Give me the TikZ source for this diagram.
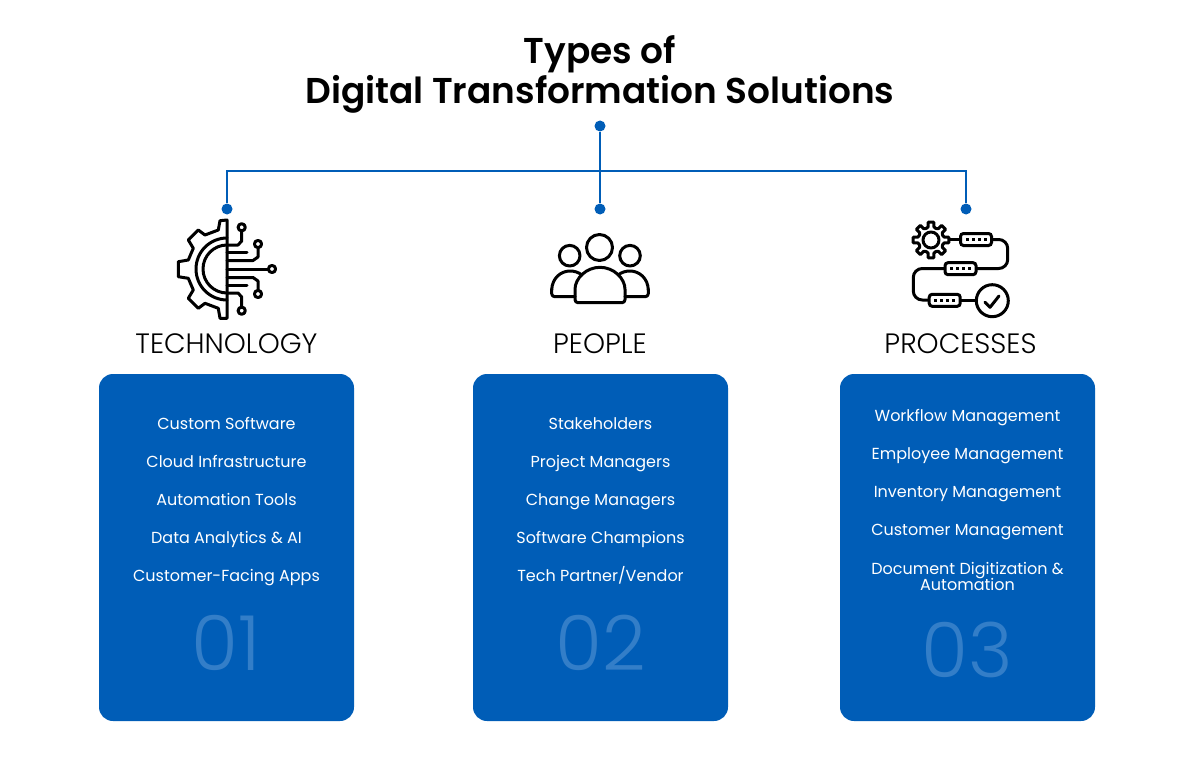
\documentclass[tikz,border=0pt]{standalone}
\usepackage{fontspec}
\setmainfont{Poppins}
\newfontfamily\titlefont{Poppins SemiBold}
\newfontfamily\lightfont{Poppins Light}
\definecolor{mainblue}{HTML}{005DB7}
\definecolor{numblue}{HTML}{337EC8}
\tikzset{
    panel/.style={draw=none,fill=mainblue,rounded corners=14pt,minimum width=255pt,minimum height=347pt,inner sep=0pt},
    dot/.style={circle,fill=mainblue,inner sep=0pt,minimum size=11pt},
    bus/.style={draw=mainblue,line width=2.2pt},
    item/.style={text=white,font=\fontsize{16}{16}\selectfont,align=center,inner sep=0pt,text height=12pt,text depth=4pt},
    head/.style={font=\lightfont\fontsize{28}{30}\selectfont,text=black,inner sep=0pt},
    num/.style={font=\lightfont\fontsize{76}{76}\selectfont,text=numblue,inner sep=0pt},
    icon/.style={draw=black,line width=3pt,line join=round,line cap=round},
    chip/.style={draw=black,line width=3pt,fill=white,rounded corners=3pt,minimum width=31pt,minimum height=12pt,inner sep=0pt},
    pip/.style={fill=black,inner sep=0pt,minimum size=3pt},
}
\begin{document}
\begin{tikzpicture}[x=1pt,y=-1pt]
    \useasboundingbox (0,0) rectangle (1200,773);

    \node[font=\titlefont\fontsize{35.9}{40}\selectfont,align=center,inner sep=0pt] (title) at (600,74.5) {Types of\\Digital Transformation Solutions};

    \node[dot] (dRoot) at (600,126) {};
    \node[dot] (dTech) at (227,209) {};
    \node[dot] (dPeople) at (600,209) {};
    \node[dot] (dProc) at (966,209) {};
    \coordinate (busMid) at (600,171);

    \draw[bus] (dTech) |- (busMid) -| (dProc);
    \draw[bus] (dRoot) -- (dPeople);

    % technology icon
    \draw[icon] (227,220) -- (220,220.7) -- (218.3,230) -- (205,235) -- (198.3,230) -- (188.3,240)
        -- (193.3,248.3) -- (188.3,260) -- (178.3,261.7) -- (178.3,276.7) -- (188.3,278.3)
        -- (193.3,290) -- (188.3,298.3) -- (198.3,308.3) -- (205,303.3) -- (218.3,308.3)
        -- (220,318.3) -- (227,318.3) -- cycle;
    \draw[icon] (227,238) arc[start angle=-90,end angle=-270,radius=31];
    \draw[icon] (227,245) arc[start angle=-90,end angle=-270,radius=24];
    \draw[icon] (227,269) -- (268,269);
    \draw[icon] (272,269) circle[radius=3.6];
    \foreach \s in {1,-1} {
        \draw[icon] (227,269-8.5*\s) -- (253,269-8.5*\s) -- (258,269-12*\s) -- (258,269-21*\s);
        \draw[icon] (258,269-25*\s) circle[radius=3.6];
        \draw[icon] (227,269-16.7*\s) -- (247,269-16.7*\s);
        \draw[icon] (227,269-24*\s) -- (238,269-24*\s) -- (241.7,269-28*\s) -- (241.7,269-37.5*\s);
        \draw[icon] (241.7,269-41.7*\s) circle[radius=3.6];
    }

    % people icon
    \draw[icon] (599.5,247.5) circle[radius=13];
    \draw[icon] (569.7,255.7) circle[radius=10.3];
    \draw[icon] (630,255.7) circle[radius=10.3];
    \draw[icon,rounded corners=3pt] (575,296.7) -- (551.7,296.7) -- (551.7,289);
    \draw[icon] (551.7,290) .. controls (552,278) and (561,271) .. (570,271) .. controls (574,271) and (578,272) .. (582,275);
    \draw[icon,rounded corners=3pt] (625,296.7) -- (648.3,296.7) -- (648.3,289);
    \draw[icon] (648.3,290) .. controls (648,278) and (639,271) .. (630,271) .. controls (626,271) and (622,272) .. (618,275);
    \draw[icon,rounded corners=3pt] (575,292.3) arc[start angle=180,end angle=360,radius=25] -- (625,302.7) -- (575,302.7) -- cycle;

    % processes icon
    \draw[icon] (949.5,239.5) -- (960,239.5);
    \draw[icon,rounded corners=9pt] (992,239.5) -- (1007.7,239.5) -- (1007.7,268.5) -- (977,268.5);
    \draw[icon,rounded corners=9pt] (944,268.5) -- (913.3,268.5) -- (913.3,300) -- (928,300);
    \draw[icon] (961,300) -- (976.5,300);
    \draw[icon] (931,240) circle[radius=8];
    \foreach \a in {0,45,...,315} {
        \draw[icon] ([shift={(\a-22.5:12.5)}]931,240) -- ([shift={(\a-12:13.5)}]931,240) -- ([shift={(\a-9:18)}]931,240)
            -- ([shift={(\a+9:18)}]931,240) -- ([shift={(\a+12:13.5)}]931,240) -- ([shift={(\a+22.5:12.5)}]931,240);
    }
    \node[chip] (chipA) at (976,239.5) {};
    \node[chip] (chipB) at (960.5,268.7) {};
    \node[chip] (chipC) at (944.7,300.3) {};
    \foreach \c in {chipA,chipB,chipC} {
        \foreach \d in {-9,-3,3,9} {
            \node[pip] at ([xshift=\d pt]\c) {};
        }
    }
    \draw[icon] (992.3,300.7) circle[radius=16];
    \draw[icon] (985,302.3) -- (990,307.3) -- (999,296);

    \node[head] (hTech) at (226.5,344) {TECHNOLOGY};
    \node[head] (hPeople) at (600,344) {PEOPLE};
    \node[head] (hProc) at (960.5,344) {PROCESSES};

    \node[panel] (pTech) at (226.5,547.5) {};
    \node[panel] (pPeople) at (600.5,547.5) {};
    \node[panel] (pProc) at (967.5,547.5) {};

    \node[item] (t1) at (226.5,425.5) {Custom Software};
    \node[item] (t2) at (226.5,463.5) {Cloud Infrastructure};
    \node[item] (t3) at (226.5,501.5) {Automation Tools};
    \node[item] (t4) at (226.5,539.5) {Data Analytics \& AI};
    \node[item] (t5) at (226.5,577.5) {Customer-Facing Apps};
    \node[num] (nTech) at (226.5,643) {01};

    \node[item] (p1) at (600.5,425.5) {Stakeholders};
    \node[item] (p2) at (600.5,463.5) {Project Managers};
    \node[item] (p3) at (600.5,501.5) {Change Managers};
    \node[item] (p4) at (600.5,539.5) {Software Champions};
    \node[item] (p5) at (600.5,577.5) {Tech Partner/Vendor};
    \node[num] (nPeople) at (600.5,643) {02};

    \node[item] (w1) at (967.5,417.5) {Workflow Management};
    \node[item] (w2) at (967.5,455.5) {Employee Management};
    \node[item] (w3) at (967.5,493.5) {Inventory Management};
    \node[item] (w4) at (967.5,531.5) {Customer Management};
    \node[item] (w5) at (967.5,586.5) {Document Digitization \&\\[-1pt]Automation};
    \node[num] (nProc) at (967.5,650) {03};
\end{tikzpicture}
\end{document}
